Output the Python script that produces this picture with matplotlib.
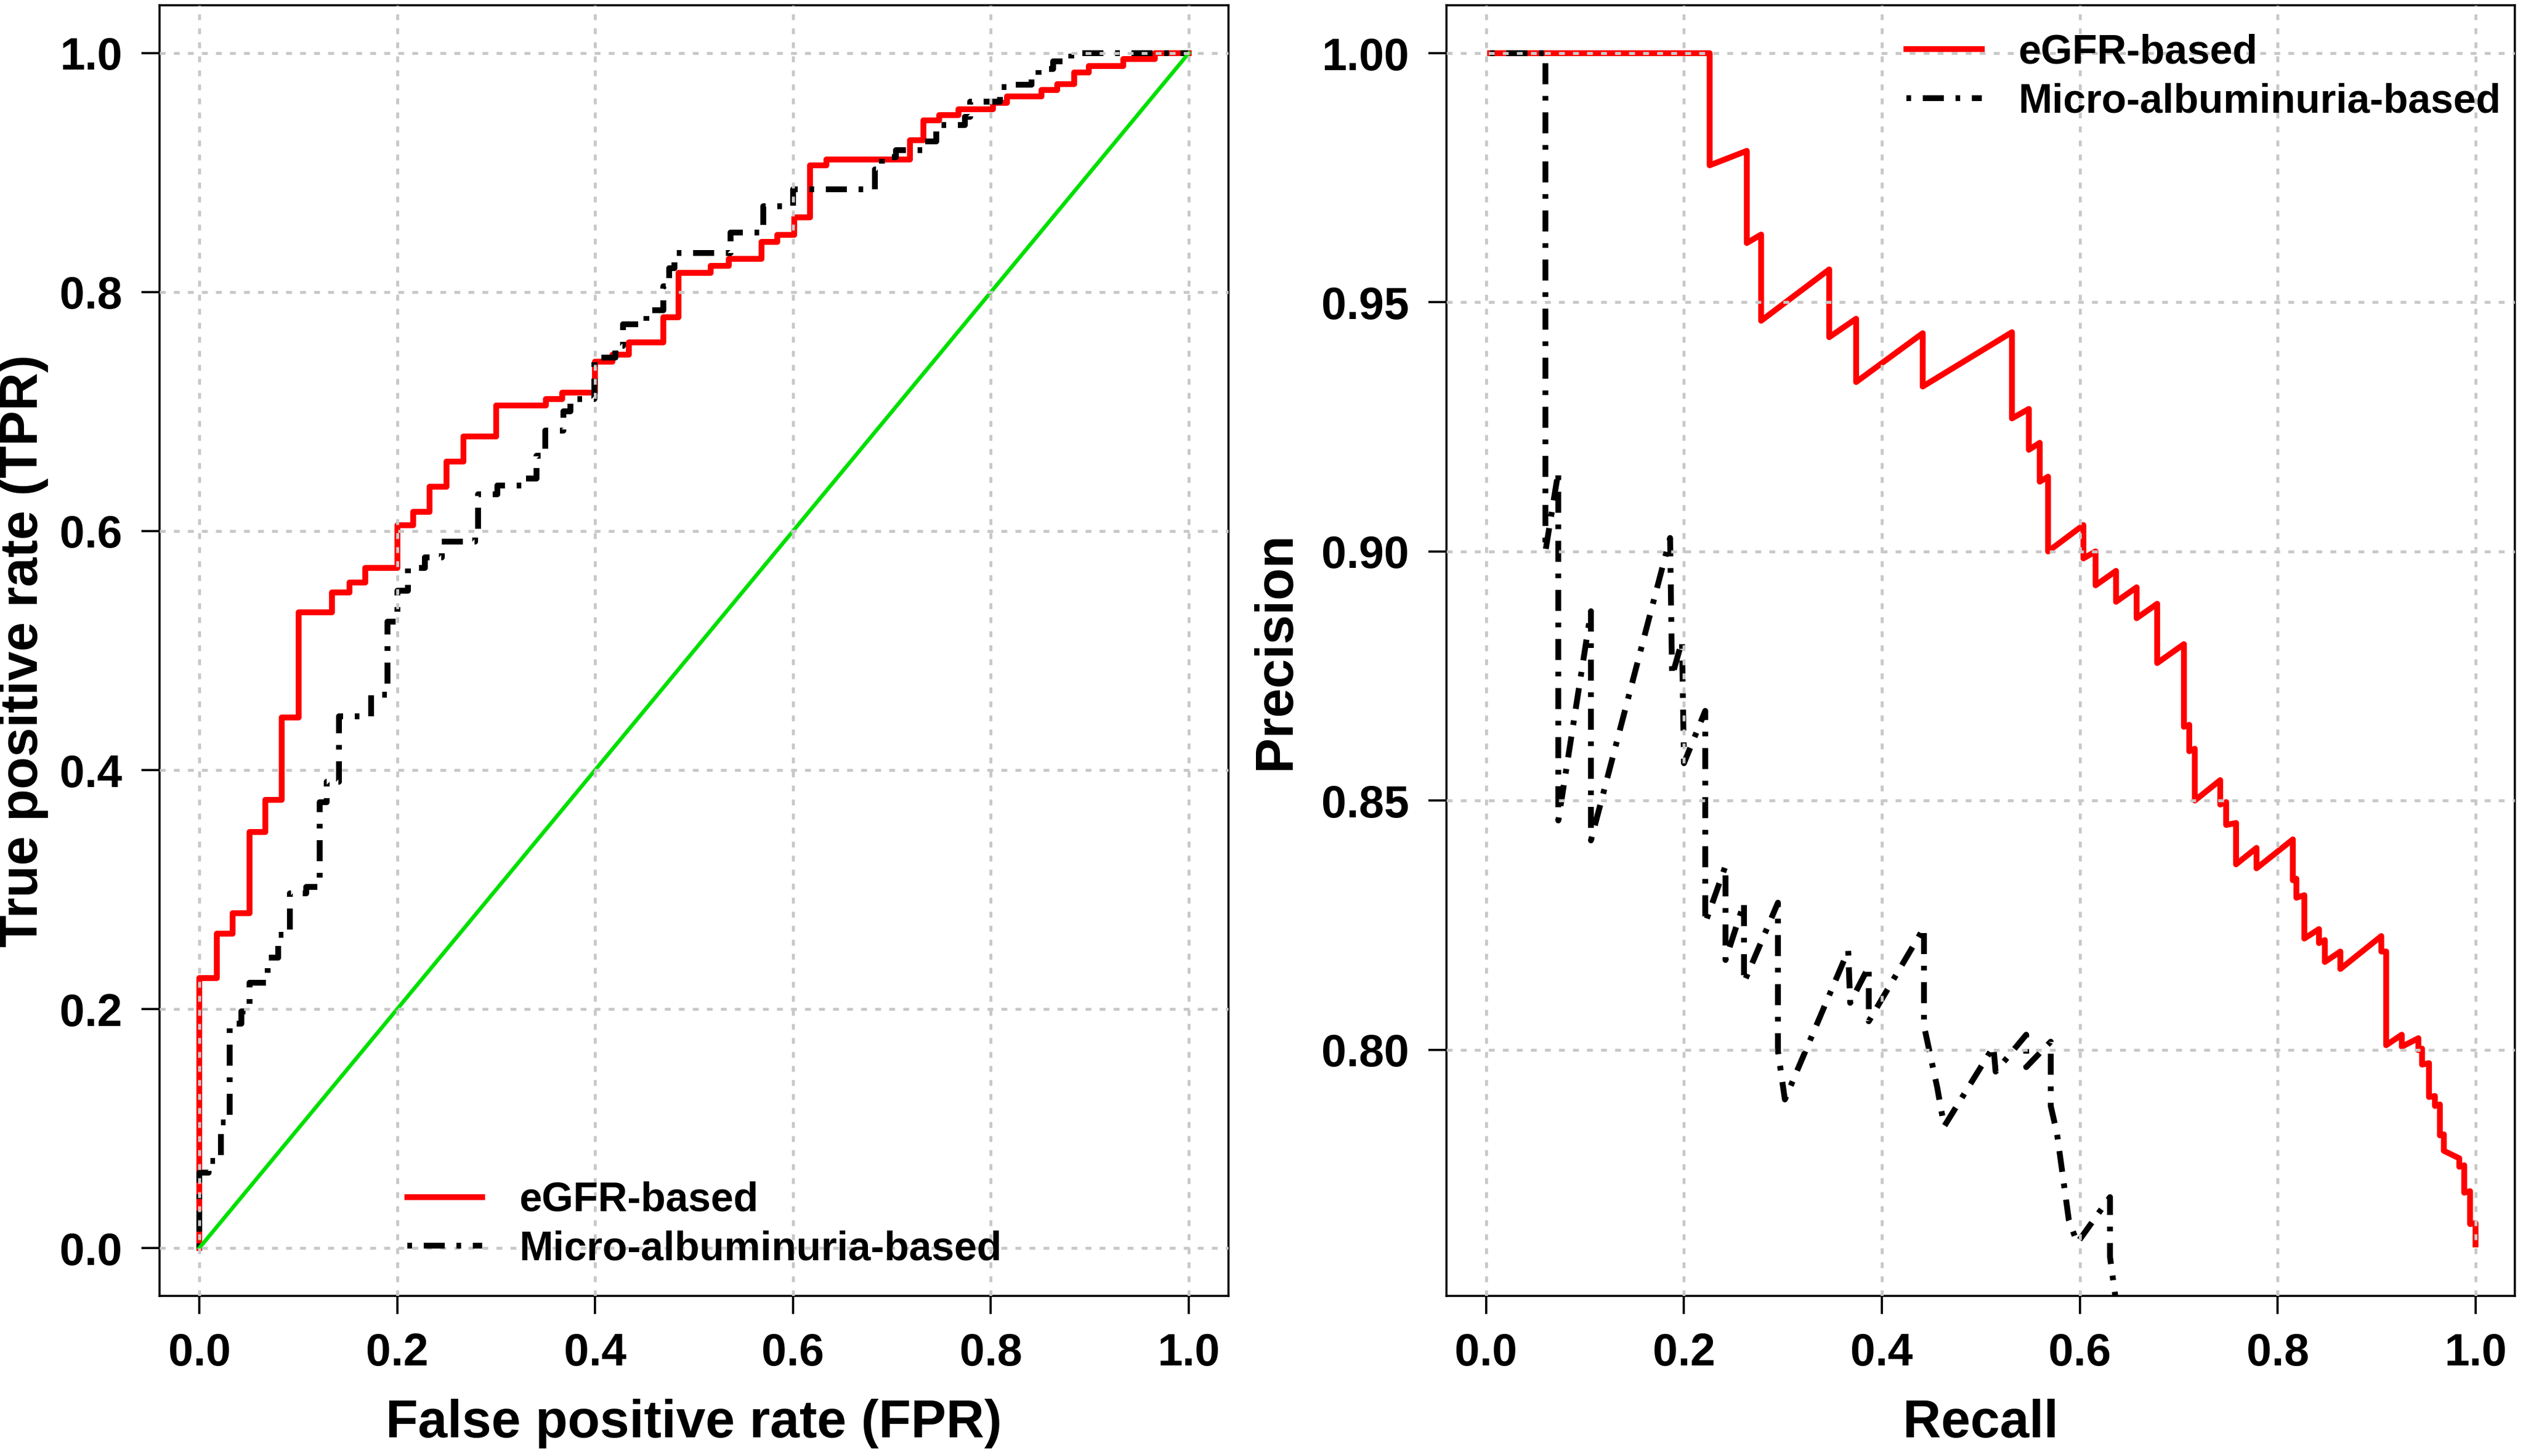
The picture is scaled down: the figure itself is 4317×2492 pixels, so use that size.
import matplotlib
matplotlib.use("Agg")
import matplotlib.pyplot as plt

# ROC curves (step points: FPR where TPR jumps, TPR after the jump)
roc_egfr_fpr = [0, 0, 0.0176, 0.0334, 0.0505, 0.0668, 0.0834, 0.1005, 0.134, 0.152,
                0.1675, 0.2, 0.216, 0.233, 0.250, 0.267, 0.300, 0.350, 0.367, 0.400,
                0.4175, 0.434, 0.4687, 0.4846, 0.517, 0.535, 0.568, 0.584, 0.601, 0.617,
                0.634, 0.718, 0.732, 0.748, 0.767, 0.802, 0.816, 0.851, 0.867, 0.884,
                0.899, 0.934, 0.966, 1.0]
roc_egfr_tpr = [0, 0.226, 0.263, 0.280, 0.348, 0.375, 0.444, 0.532, 0.5485, 0.557,
                0.569, 0.605, 0.616, 0.637, 0.658, 0.679, 0.705, 0.7105, 0.716, 0.742,
                0.7476, 0.758, 0.779, 0.816, 0.822, 0.828, 0.842, 0.848, 0.8625, 0.906,
                0.911, 0.927, 0.944, 0.948, 0.953, 0.9586, 0.964, 0.969, 0.974, 0.984,
                0.989, 0.995, 1.0, 1.0]

roc_micro_fpr = [0, 0, 0.0097, 0.0216, 0.0308, 0.0426, 0.0505, 0.069, 0.0795, 0.0913,
                 0.108, 0.1216, 0.129, 0.141, 0.1735, 0.190, 0.2, 0.211, 0.2277, 0.245,
                 0.279, 0.282, 0.3015, 0.327, 0.3407, 0.3497, 0.3678, 0.375, 0.3994, 0.4205,
                 0.428, 0.452, 0.4687, 0.475, 0.48, 0.537, 0.570, 0.600, 0.683, 0.69,
                 0.704, 0.733, 0.745, 0.774, 0.779, 0.8095, 0.823, 0.841, 0.848, 0.863,
                 0.881, 1.0]
roc_micro_tpr = [0, 0.063, 0.073, 0.105, 0.188, 0.198, 0.222, 0.243, 0.262, 0.297,
                 0.302, 0.373, 0.39, 0.445, 0.463, 0.524, 0.55, 0.569, 0.578, 0.591,
                 0.598, 0.631, 0.638, 0.644, 0.663, 0.684, 0.70, 0.7105, 0.745, 0.755,
                 0.773, 0.785, 0.805, 0.82, 0.833, 0.85, 0.872, 0.886, 0.9026, 0.913,
                 0.919, 0.926, 0.94, 0.9465, 0.9595, 0.9716, 0.9735, 0.98, 0.9866, 0.993,
                 1.0, 1.0]

chance_fpr = [0, 1]
chance_tpr = [0, 1]

# Precision-recall curves
pr_egfr_recall = [0.004, 0.226, 0.226, 0.2635, 0.2635, 0.278, 0.278, 0.3468, 0.3468, 0.374,
                  0.374, 0.4413, 0.4413, 0.5315, 0.5315, 0.5486, 0.5486, 0.5596, 0.5596, 0.568,
                  0.568, 0.6037, 0.6037, 0.616, 0.616, 0.6367, 0.6367, 0.6575, 0.6575, 0.6783,
                  0.6783, 0.7053, 0.7053, 0.7107, 0.7107, 0.7163, 0.7163, 0.742, 0.742, 0.748,
                  0.748, 0.758, 0.758, 0.7787, 0.7787, 0.8154, 0.8154, 0.819, 0.819, 0.827,
                  0.827, 0.8418, 0.8418, 0.8477, 0.8477, 0.8634, 0.8634, 0.9048, 0.9048, 0.9097,
                  0.9097, 0.9255, 0.9255, 0.9423, 0.9423, 0.946, 0.946, 0.953, 0.953, 0.959,
                  0.959, 0.964, 0.964, 0.968, 0.968, 0.9836, 0.9836, 0.9886, 0.9886, 0.9945,
                  0.9945, 1.0, 1.0]
pr_egfr_precision = [1.0, 1.0, 0.9775, 0.9804, 0.9619, 0.9636, 0.9463, 0.9566, 0.943, 0.9467,
                     0.934, 0.9438, 0.9331, 0.944, 0.9267, 0.9286, 0.9204, 0.9218, 0.914, 0.915,
                     0.900, 0.9053, 0.8986, 0.900, 0.8932, 0.8961, 0.8899, 0.8928, 0.8866, 0.8895,
                     0.8776, 0.8814, 0.8648, 0.8652, 0.8599, 0.8604, 0.850, 0.8541, 0.8492, 0.8497,
                     0.8451, 0.8455, 0.8372, 0.8405, 0.8364, 0.8422, 0.834, 0.8343, 0.8305, 0.831,
                     0.8223, 0.8242, 0.8214, 0.822, 0.8176, 0.8197, 0.8162, 0.8228, 0.8197, 0.8197,
                     0.8009, 0.803, 0.8006, 0.8023, 0.7999, 0.8002, 0.797, 0.7973, 0.7905, 0.7907,
                     0.7887, 0.789, 0.7828, 0.783, 0.7797, 0.7782, 0.7765, 0.7768, 0.7713, 0.7716,
                     0.765, 0.7652, 0.7609]

pr_micro_recall = [0.004, 0.06, 0.06, 0.073, 0.073, 0.106, 0.106, 0.186, 0.188, 0.198,
                   0.2, 0.2215, 0.2215, 0.242, 0.242, 0.2607, 0.2607, 0.295, 0.295, 0.302,
                   0.366, 0.368, 0.3868, 0.3868, 0.4426, 0.4426, 0.456, 0.463, 0.5128, 0.515,
                   0.5459, 0.5459, 0.5707, 0.5707, 0.577, 0.589, 0.5975, 0.6306, 0.6306, 0.637,
                   0.642]
pr_micro_precision = [1.0, 1.0, 0.900, 0.916, 0.846, 0.888, 0.842, 0.9027, 0.875, 0.882,
                      0.8575, 0.868, 0.8254, 0.8369, 0.818, 0.8295, 0.8135, 0.8295, 0.7997, 0.790,
                      0.8199, 0.8094, 0.8167, 0.8057, 0.8245, 0.8048, 0.7924, 0.7846, 0.8006, 0.7956,
                      0.803, 0.7965, 0.8016, 0.7887, 0.7832, 0.7658, 0.7612, 0.7704, 0.7584, 0.749,
                      0.735]

roc_ticks = [0.0, 0.2, 0.4, 0.6, 0.8, 1.0]
prec_ticks = [0.80, 0.85, 0.90, 0.95, 1.00]
legend_labels = ["eGFR-based", "Micro-albuminuria-based"]

plt.rcParams.update({
    "font.family": ["Liberation Sans", "DejaVu Sans"],
    "font.weight": "bold",
    "axes.labelweight": "bold",
})

DOTDASH = (0, (0.8, 2.0, 3.6, 2.0))
GRID = dict(color="#c8c8c8", linewidth=1.2, linestyle=(0, (2.0, 2.8)))
LEG = dict(loc="center left", frameon=False, fontsize=16.7, handlelength=1.85,
           handletextpad=0.9, labelspacing=0.25, borderpad=0, borderaxespad=0)

fig = plt.figure(figsize=(4317 / 300, 2492 / 300), dpi=300)
ax1 = fig.add_axes([0.06331, 0.11003, 0.42354, 0.88628])
ax2 = fig.add_axes([0.57332, 0.11003, 0.42354, 0.88628])

# ROC panel
ax1.plot(roc_egfr_fpr, roc_egfr_tpr, drawstyle="steps-post", color="red", lw=2.4,
         label=legend_labels[0])
ax1.plot(roc_micro_fpr, roc_micro_tpr, drawstyle="steps-post", color="black", lw=2.4,
         linestyle=DOTDASH, label=legend_labels[1])
ax1.plot(chance_fpr, chance_tpr, color="#00e000", lw=1.6)
ax1.set_xlim(-0.04, 1.04)
ax1.set_ylim(-0.04, 1.04)
ax1.set_xticks(roc_ticks)
ax1.set_yticks(roc_ticks)
ax1.set_xticklabels([f"{t:.1f}" for t in roc_ticks])
ax1.set_yticklabels([f"{t:.1f}" for t in roc_ticks])
ax1.set_xlabel("False positive rate (FPR)", fontsize=21.7)
ax1.set_ylabel("True positive rate (TPR)", fontsize=21.7)
ax1.xaxis.set_label_coords(0.5, -0.08)
ax1.yaxis.set_label_coords(-0.104, 0.5)
ax1.legend(bbox_to_anchor=(0.2315, 0.0549), **LEG)

# Precision-recall panel
ax2.plot(pr_egfr_recall, pr_egfr_precision, color="red", lw=2.4, label=legend_labels[0])
ax2.plot(pr_micro_recall, pr_micro_precision, color="black", lw=2.4,
         linestyle=DOTDASH, label=legend_labels[1])
ax2.set_xlim(-0.04, 1.04)
ax2.set_ylim(0.7506, 1.0096)
ax2.set_xticks(roc_ticks)
ax2.set_yticks(prec_ticks)
ax2.set_xticklabels([f"{t:.1f}" for t in roc_ticks])
ax2.set_yticklabels([f"{t:.2f}" for t in prec_ticks])
ax2.set_xlabel("Recall", fontsize=21.7)
ax2.set_ylabel("Precision", fontsize=21.7)
ax2.xaxis.set_label_coords(0.5, -0.08)
ax2.yaxis.set_label_coords(-0.136, 0.5)
ax2.legend(bbox_to_anchor=(0.4306, 0.9442), **LEG)

for ax in (ax1, ax2):
    ax.set_axisbelow(False)
    ax.grid(True, **GRID)
    for s in ax.spines.values():
        s.set_linewidth(0.85)
    ax.tick_params(axis="both", direction="out", length=7.4, width=0.9, labelsize=18.5)
    ax.tick_params(axis="x", pad=7.5)
    ax.tick_params(axis="y", pad=8)

fig.savefig("out.png", dpi=300)
